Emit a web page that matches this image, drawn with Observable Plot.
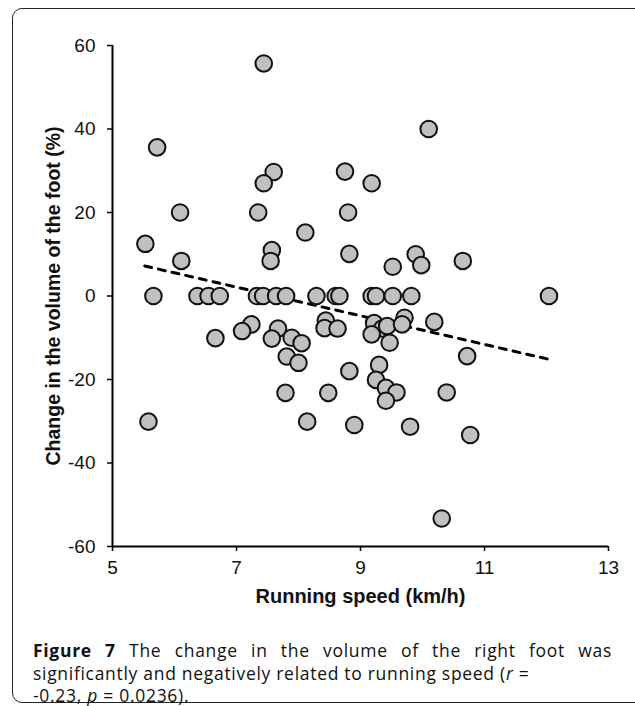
<!DOCTYPE html>
<html><head><meta charset="utf-8">
<script src="https://cdn.jsdelivr.net/npm/d3@7"></script>
<script src="https://cdn.jsdelivr.net/npm/@observablehq/plot@0.6"></script>
<style>
body{margin:0;background:#fff;width:635px;height:706px;overflow:hidden;position:relative;font-family:"Liberation Sans",Arial,sans-serif;}
#frame{position:absolute;left:12px;top:8px;width:640px;height:695px;border:1.5px solid #222;border-radius:10px;box-sizing:border-box;}
#chart{position:absolute;left:0;top:0;}
#caption{position:absolute;left:33px;top:639px;width:579px;font-family:"Open Sans",sans-serif;font-size:17.5px;letter-spacing:0.7px;line-height:22.5px;color:#111;}
#caption .l1{text-align:justify;text-align-last:justify;}
#caption div{white-space:nowrap;}
</style>
</head><body>
<div id="frame"></div>
<div id="chart"></div>
<div id="caption">
<div class="l1"><b>Figure 7</b> The change in the volume of the right foot was</div>
<div>significantly and negatively related to running speed (<i>r</i> =</div>
<div>-0.23, <i>p</i> = 0.0236).</div>
</div>
<script>
const speed = [7.44,5.72,10.10,7.60,7.44,8.75,9.18,6.09,7.35,8.80,8.11,5.53,7.57,7.55,6.11,8.82,9.89,9.52,9.98,10.65,
  5.66,6.37,6.55,6.73,7.33,7.43,7.64,7.80,8.29,8.60,8.66,9.18,9.25,9.52,9.82,12.04,
  7.24,7.09,6.66,7.67,7.57,7.89,8.05,7.81,8.00,8.44,8.42,8.63,9.22,9.35,9.43,9.18,9.47,9.71,9.67,10.19,10.72,
  8.82,9.30,9.25,9.41,9.58,9.41,10.39,7.79,8.48,5.58,8.14,8.90,9.80,10.77,10.31];
const change = [55.7,35.6,40.0,29.7,27.0,29.8,27.0,20.0,20.0,20.0,15.2,12.5,11.0,8.4,8.4,10.1,10.0,7.0,7.4,8.4,
  0,0,0,0,0,0,0,0,0,0,0,0,0,0,0,0,
  -6.8,-8.4,-10.1,-7.8,-10.2,-10.0,-11.3,-14.5,-16.0,-5.9,-7.7,-7.8,-6.5,-7.8,-7.2,-9.2,-11.2,-5.2,-6.8,-6.2,-14.4,
  -18.0,-16.5,-20.1,-22.0,-23.1,-25.1,-23.1,-23.2,-23.2,-30.1,-30.1,-30.9,-31.3,-33.3,-53.3];
const trendSpeed = [5.52, 12.05];
const trendChange = [7.2, -15.2];
const xTicks = [5, 7, 9, 11, 13];
const yTicks = [-60, -40, -20, 0, 20, 40, 60];
const xTitle = "Running speed (km/h)";
const yTitle = "Change in the volume of the foot (%)";

const points = speed.map((s, i) => ({speed: s, change: change[i]}));
const trend = trendSpeed.map((s, i) => ({speed: s, change: trendChange[i]}));
const fmt = d => String(d);

const chart = Plot.plot({
  width: 635, height: 625,
  marginLeft: 112, marginRight: 27, marginTop: 45, marginBottom: 79,
  x: {domain: [5, 13]},
  y: {domain: [-60, 60]},
  style: {fontFamily: "'Liberation Sans', Arial, sans-serif", fontSize: "19px", color: "#000", background: "transparent", overflow: "visible"},
  marks: [
    Plot.axisY({ticks: yTicks, tickFormat: fmt, tickSize: 5, tickPadding: 12, label: null, strokeWidth: 1.5, fill: "#111", fontSize: 19}),
    Plot.axisX({ticks: xTicks, tickFormat: fmt, tickSize: 5, tickPadding: 9, label: null, strokeWidth: 1.5, fill: "#111", fontSize: 19}),
    Plot.ruleX([5], {y1: -60, y2: 60, stroke: "#000", strokeWidth: 2}),
    Plot.ruleY([-60], {x1: 5, x2: 13, stroke: "#000", strokeWidth: 2}),
    Plot.line(trend, {x: "speed", y: "change", stroke: "#000", strokeWidth: 3, strokeDasharray: "7,7", strokeLinecap: "round"}),
    Plot.dot(points, {x: "speed", y: "change", r: 8.3, fill: "#c0c0c0", stroke: "#111", strokeWidth: 2}),
    Plot.text([xTitle], {frameAnchor: "bottom", dy: 56, fontWeight: "bold", fontSize: 20, fill: "#111"}),
    Plot.text([yTitle], {frameAnchor: "left", dx: -59, rotate: -90, textAnchor: "middle", fontWeight: "bold", fontSize: 19.5, fill: "#111"})
  ]
});
document.getElementById("chart").appendChild(chart);
</script>
</body></html>
